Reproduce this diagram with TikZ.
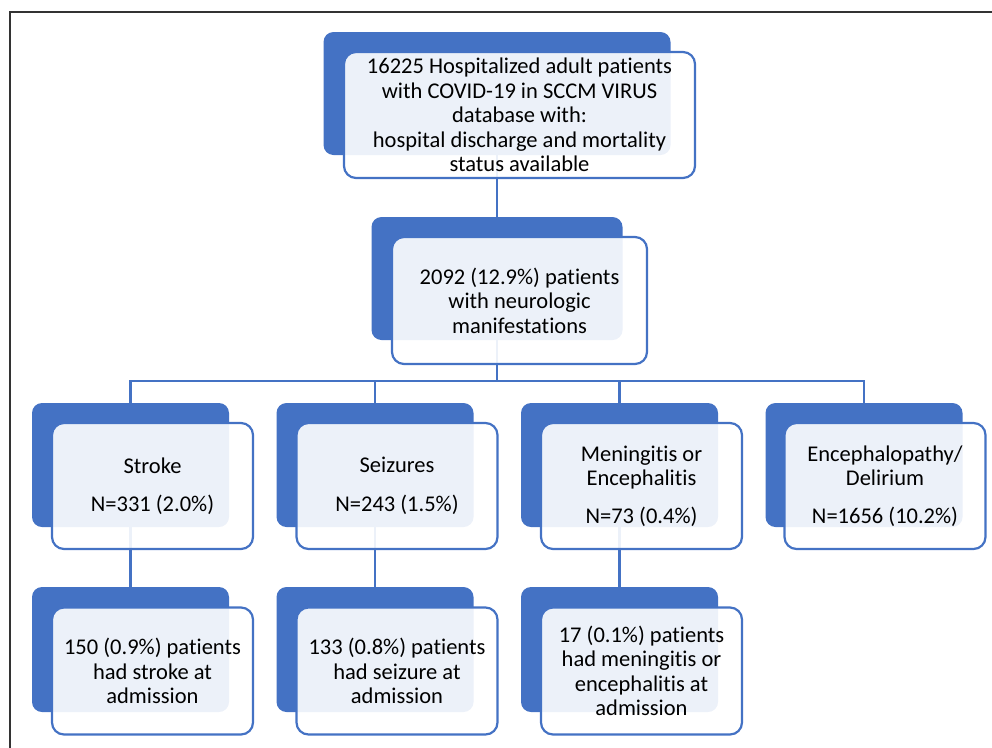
\documentclass[tikz,border=0pt]{standalone}
\usepackage{fontspec}
\setmainfont{Carlito}[Ligatures=CommonOff]
\definecolor{ppblue}{HTML}{4472C4}
\pgfdeclarelayer{background}
\pgfsetlayers{background,main}
\begin{document}
\begin{tikzpicture}[x=1pt,y=-1pt,
  backbox/.style={fill=ppblue, draw=none, rounded corners=10pt, inner sep=0pt},
  frontbox/.style={fill=white, fill opacity=0.9, text opacity=1, draw=ppblue, line width=2.2pt,
    rounded corners=12pt, align=center, inner sep=0pt, text=black,
    font=\fontsize{22.5}{24.5}\selectfont},
  link/.style={draw=ppblue, line width=2.5pt}]
\useasboundingbox (0,0) rectangle (992,747);
\draw[line width=1.8pt, draw=black!80] (10,12) rectangle (1010,770);

% level 1
\node[backbox, minimum width=347pt, minimum height=123pt] (b1) at (497,93.5) {};
\node[frontbox, minimum width=351pt, minimum height=126pt] (f1) at (519.5,115)
  {16225 Hospitalized adult patients\\with COVID-19 in SCCM VIRUS\\database with:\\hospital discharge and mortality\\status available};

% level 2
\node[backbox, minimum width=251pt, minimum height=123pt] (b2) at (497,278.5) {};
\node[frontbox, minimum width=255pt, minimum height=127pt] (f2) at (519.5,300.5)
  {2092 (12.9\%) patients\\with neurologic\\manifestations};

\coordinate (bus) at (497,381);

% level 3
\node[backbox, minimum width=197pt, minimum height=124pt] (b3a) at (130.5,465) {};
\node[backbox, minimum width=197pt, minimum height=124pt] (b3b) at (375,465) {};
\node[backbox, minimum width=197pt, minimum height=124pt] (b3c) at (619.5,465) {};
\node[backbox, minimum width=197pt, minimum height=124pt] (b3d) at (864,465) {};
\node[frontbox, minimum width=201pt, minimum height=126pt] (f3a) at (152.5,486)
  {Stroke\\[14pt]N=331 (2.0\%)};
\node[frontbox, minimum width=201pt, minimum height=126pt] (f3b) at (397,486)
  {Seizures\\[14pt]N=243 (1.5\%)};
\node[frontbox, minimum width=201pt, minimum height=126pt] (f3c) at (641.5,486)
  {Meningitis or\\Encephalitis\\[13pt]N=73 (0.4\%)};
\node[frontbox, minimum width=201pt, minimum height=126pt] (f3d) at (885,486)
  {Encephalopathy/\\Delirium\\[13pt]N=1656 (10.2\%)};

% level 4
\node[backbox, minimum width=197pt, minimum height=125pt] (b4a) at (130.5,649.5) {};
\node[backbox, minimum width=197pt, minimum height=125pt] (b4b) at (375,649.5) {};
\node[backbox, minimum width=197pt, minimum height=125pt] (b4c) at (619.5,649.5) {};
\node[frontbox, minimum width=201pt, minimum height=127pt] (f4a) at (152.5,671)
  {150 (0.9\%) patients\\had stroke at\\admission};
\node[frontbox, minimum width=201pt, minimum height=127pt] (f4b) at (397,671)
  {133 (0.8\%) patients\\had seizure at\\admission};
\node[frontbox, minimum width=201pt, minimum height=127pt] (f4c) at (641.5,671)
  {17 (0.1\%) patients\\had meningitis or\\encephalitis at\\admission};

\begin{pgfonlayer}{background}
  \draw[link] (b1.south) -- (b2.north);
  \draw[link] (b2.south) -- (bus);
  \foreach \n in {b3a,b3b,b3c,b3d} \draw[link] (\n.north) |- (bus);
  \draw[link] (b3a.south) -- (b4a.north);
  \draw[link] (b3b.south) -- (b4b.north);
  \draw[link] (b3c.south) -- (b4c.north);
\end{pgfonlayer}
\end{tikzpicture}
\end{document}
